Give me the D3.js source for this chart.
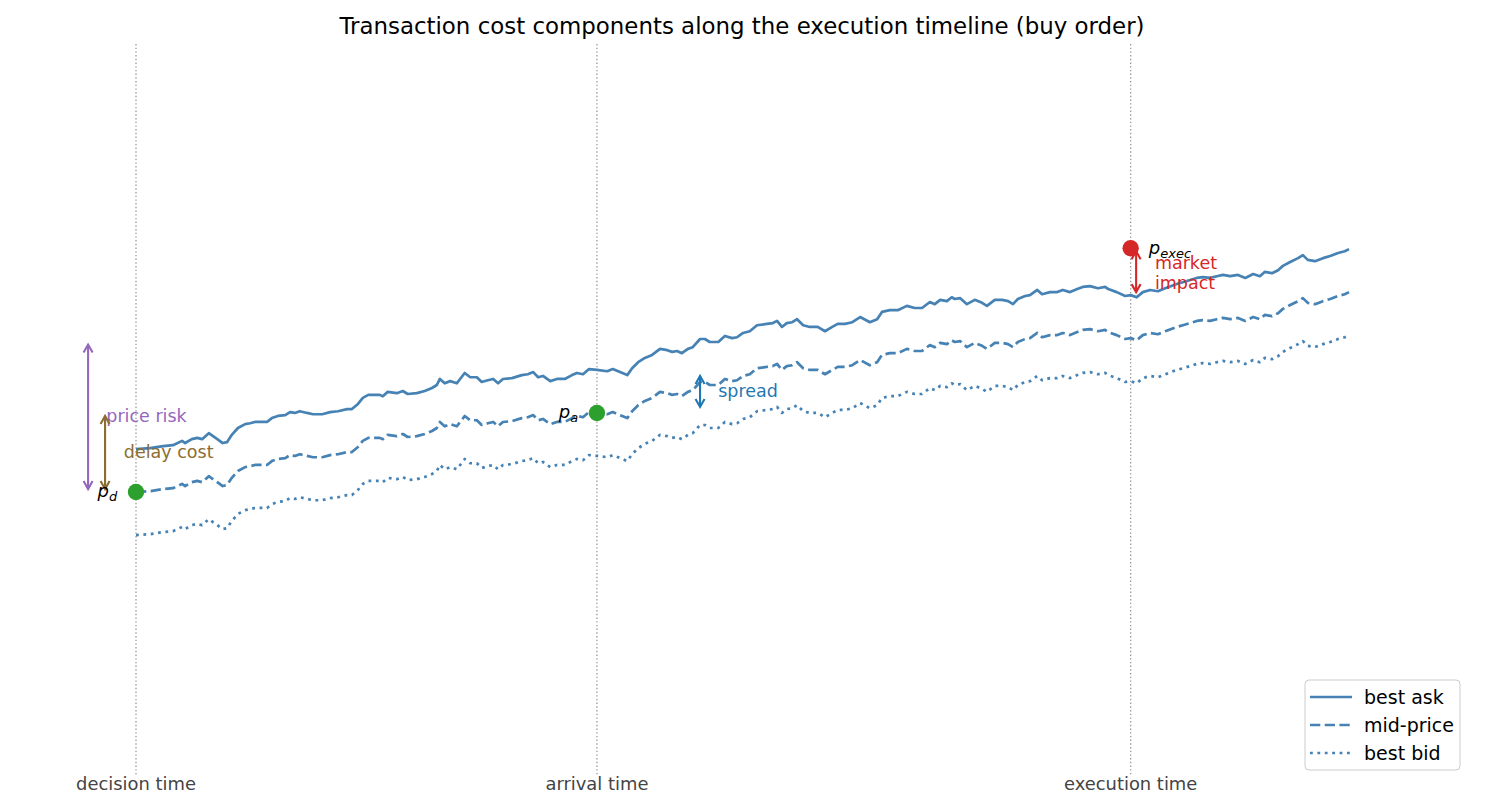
<!DOCTYPE html>
<html>
<head>
<meta charset="utf-8">
<script src="https://cdn.jsdelivr.net/npm/d3@7"></script>
<style>
  body { margin: 0; background: #fff; }
  svg text { font-family: "DejaVu Sans", sans-serif; }
</style>
</head>
<body>
<div id="chart"></div>
<script>
// time in simulation steps (decision = 0), mid-price in bps relative to the decision price
const steps = [0, 2.3, 4.5, 6.1, 7.6, 8.1, 9.2, 10.1, 10.9, 12.0, 13.4, 14.3, 15.0, 15.8, 16.8, 18.0, 18.8, 19.6, 20.8, 21.6,
  22.4, 23.4, 24.6, 25.4, 26.2, 27.0, 28.2, 29.2, 30.7, 32.0, 33.3, 34.8, 35.6, 36.6, 37.4, 38.3, 40.2, 40.7, 41.5, 43.0,
  44.0, 44.8, 46.3, 47.6, 48.8, 49.6, 50.1, 50.9, 51.8, 52.9, 54.2, 55.1, 56.2, 57.0, 58.0, 58.9, 59.7, 60.5, 62.0, 63.6,
  64.6, 65.5, 66.3, 67.1, 68.3, 69.4, 70.7, 71.9, 72.7, 73.7, 74.7, 76.0, 77.7, 78.6, 79.8, 81.0, 81.8, 82.8, 83.9, 85.1,
  86.4, 87.6, 88.4, 89.2, 90.0, 91.0, 91.8, 93.0, 93.8, 94.6, 96.0, 97.1, 98.3, 99.1, 100.1, 101.2, 102.4, 104.0, 105.0, 105.7,
  106.5, 107.3, 108.2, 109.0, 110.0, 111.1, 112.4, 113.6, 114.8, 115.7, 116.9, 118.1, 119.4, 121.0, 122.2, 123.0, 124.3, 125.6, 127.1, 128.4,
  129.6, 130.9, 131.7, 132.6, 133.7, 134.5, 135.0, 135.9, 137.0, 138.3, 139.5, 140.3, 141.6, 142.8, 143.8, 144.6, 145.4, 146.6, 147.4, 148.6,
  149.4, 150.7, 151.9, 152.8, 154.0, 155.2, 156.1, 157.3, 158.6, 159.8, 160.3, 161.7, 163.1, 164.0, 165.0, 166.0, 167.2, 168.5, 169.7, 171.6,
  172.6, 173.8, 174.9, 175.9, 177.1, 178.2, 179.2, 180.4, 181.7, 182.9, 184.2, 185.3, 186.1, 187.3, 188.3, 189.1, 190.3, 191.6, 192.4, 193.2,
  194.4, 195.7, 196.9, 198.2, 199.3, 200];
const midBps = [0, 0.2, 0.7, 0.9, 1.9, 1.4, 2.3, 2.6, 2.3, 3.7, 2.3, 1.4, 1.6, 3.3, 4.9, 5.8, 6.0, 6.3, 6.3, 6.3,
  7.2, 7.7, 7.9, 8.6, 8.4, 8.8, 8.4, 8.1, 8.1, 8.6, 8.8, 9.3, 9.3, 10.5, 11.9, 12.6, 12.6, 12.3, 13.3, 13.0,
  13.5, 12.8, 13.0, 13.5, 14.2, 14.9, 16.3, 15.3, 15.8, 15.3, 17.7, 16.7, 16.7, 15.6, 16.0, 16.3, 15.3, 16.3, 16.5, 17.2,
  17.4, 17.9, 16.7, 17.0, 15.8, 16.3, 16.3, 17.2, 17.7, 17.4, 18.6, 18.4, 18.1, 18.6, 17.9, 17.2, 18.8, 20.2, 21.2, 21.9,
  23.3, 23.0, 22.6, 22.8, 22.3, 23.3, 23.7, 25.6, 25.6, 24.9, 24.9, 26.3, 25.8, 26.0, 27.0, 27.4, 28.8, 29.1, 29.3, 29.8,
  28.4, 29.3, 29.5, 30.2, 28.8, 28.4, 28.4, 27.4, 28.4, 29.1, 29.1, 29.5, 30.7, 29.5, 30.2, 31.9, 32.3, 32.3, 33.3, 32.8,
  32.8, 34.2, 33.7, 34.7, 34.4, 35.3, 34.9, 35.1, 33.7, 34.7, 34.0, 33.3, 34.7, 34.7, 34.4, 33.7, 34.9, 35.6, 35.8, 37.0,
  36.0, 36.5, 36.5, 37.0, 36.5, 37.2, 37.7, 37.9, 37.4, 37.7, 37.2, 36.5, 35.6, 35.8, 35.3, 36.5, 37.0, 36.7, 37.4, 38.4,
  38.8, 39.3, 39.8, 40.0, 39.8, 40.2, 40.5, 40.2, 40.5, 39.8, 40.7, 40.2, 41.2, 40.9, 41.6, 42.6, 43.5, 44.4, 45.1, 44.0,
  43.7, 44.4, 44.9, 45.6, 46.0, 46.5];
const halfSpread = 10;          // bps
const eventNames = ["decision time", "arrival time", "execution time"];
const eventSteps = [0, 76, 164];
const pDecision = 0, pArrival = 18.4, pExec = 56.7;
const seriesNames = ["best ask", "mid-price", "best bid"];
const seriesOffsets = [halfSpread, 0, -halfSpread];

const width = 1485, height = 807;
const title = "Transaction cost components along the execution timeline (buy order)";

const svg = d3.select("#chart").append("svg")
    .attr("width", width).attr("height", height);

const x = d3.scaleLinear().domain([0, 200]).range([136, 1349]);
const y = d3.scaleLinear().domain([-65.8, 104.2]).range([775, 44]);

const lineColor = "#4682b4";
const dashes = ["none", "10.3,4.4", "2.8,4.6"];
const lw = 2.7;

svg.append("text")
    .attr("x", 742).attr("y", 34)
    .attr("text-anchor", "middle")
    .attr("font-size", 22.9)
    .attr("fill", "#000")
    .text(title);

// event markers (vertical dotted lines + labels under the axes)
svg.append("g").selectAll("line")
  .data(eventSteps)
  .join("line")
    .attr("x1", d => x(d)).attr("x2", d => x(d))
    .attr("y1", y.range()[1]).attr("y2", y.range()[0])
    .attr("stroke", "#999")
    .attr("stroke-width", 1.3)
    .attr("stroke-dasharray", "1.4,2.3");

svg.append("g").selectAll("text")
  .data(eventNames)
  .join("text")
    .attr("x", (d, i) => x(eventSteps[i]))
    .attr("y", 790)
    .attr("text-anchor", "middle")
    .attr("font-size", 17.9)
    .attr("fill", "#444")
    .text(d => d);

// ask / mid / bid
const pts = steps.map((s, i) => ({ s: s, m: midBps[i] }));
seriesOffsets.forEach((off, k) => {
  const line = d3.line().x(d => x(d.s)).y(d => y(d.m + off));
  svg.append("path")
      .datum(pts)
      .attr("d", line)
      .attr("fill", "none")
      .attr("stroke", lineColor)
      .attr("stroke-width", lw)
      .attr("stroke-linejoin", "round")
      .attr("stroke-dasharray", dashes[k]);
});

// double headed arrows
function arrow(step, v0, v1, color) {
  const px = x(step), ya = y(v0), yb = y(v1);
  const dir = yb < ya ? -1 : 1;
  const a = ya + dir * 3, b = yb - dir * 3;   // small shrink like annotate
  const g = svg.append("g").attr("stroke", color).attr("stroke-width", 2.1).attr("fill", "none");
  g.append("line").attr("x1", px).attr("x2", px).attr("y1", a).attr("y2", b);
  g.append("path").attr("d", `M${px - 4.5},${a + dir * 8}L${px},${a}L${px + 4.5},${a + dir * 8}`);
  g.append("path").attr("d", `M${px - 4.5},${b - dir * 8}L${px},${b}L${px + 4.5},${b - dir * 8}`);
}

function label(step, v, txt, color, anchor) {
  return svg.append("text")
      .attr("x", x(step)).attr("y", y(v))
      .attr("dy", "0.35em")
      .attr("text-anchor", anchor || "start")
      .attr("font-size", 17.5)
      .attr("fill", color)
      .text(txt);
}

const purple = "#9467bd", brown = "#8c6d31", blue = "#1f77b4", red = "#d62728", green = "#2ca02c";

arrow(-7.9, pDecision, 35.0, purple);
label(-4.9, 17.7, "price risk", purple);

arrow(-5.1, pDecision, pArrival, brown);
label(-2.0, 9.3, "delay cost", brown);

arrow(93.0, 19.1, 27.7, blue);
label(96.0, 23.5, "spread", blue);

const askAtExec = 45.8;
arrow(164.9, askAtExec, pExec, red);
const mi = svg.append("text")
    .attr("x", x(168.0)).attr("y", y(53.3))
    .attr("dy", "0.35em")
    .attr("font-size", 17.5)
    .attr("fill", red);
mi.append("tspan").text("market");
mi.append("tspan").attr("x", x(168.0)).attr("dy", "1.15em").text("impact");

// price points
const marks = [
  { s: 0, v: pDecision, c: green, sub: "d", lx: -3.1, anchor: "end" },
  { s: 76, v: pArrival, c: green, sub: "a", lx: 72.9, anchor: "end" },
  { s: 164, v: pExec, c: red, sub: "exec", lx: 167.0, anchor: "start" }
];

svg.append("g").selectAll("circle")
  .data(marks)
  .join("circle")
    .attr("cx", d => x(d.s))
    .attr("cy", d => y(d.v))
    .attr("r", 8.2)
    .attr("fill", d => d.c);

marks.forEach(d => {
  const t = svg.append("text")
      .attr("x", x(d.lx)).attr("y", y(d.v))
      .attr("dy", "0.3em")
      .attr("text-anchor", d.anchor)
      .attr("font-size", 18)
      .attr("font-style", "italic")
      .attr("fill", "#000");
  t.append("tspan").text("p");
  t.append("tspan").attr("font-size", 13).attr("dy", "0.3em").text(d.sub);
});

// legend
const legend = svg.append("g").attr("transform", "translate(1305,680)");
legend.append("rect")
    .attr("width", 155).attr("height", 90)
    .attr("rx", 4)
    .attr("fill", "#fff").attr("fill-opacity", 0.8)
    .attr("stroke", "#ccc");
seriesNames.forEach((n, i) => {
  const yy = 17 + i * 28;
  legend.append("line")
      .attr("x1", 5).attr("x2", 47)
      .attr("y1", yy).attr("y2", yy)
      .attr("stroke", lineColor)
      .attr("stroke-width", lw)
      .attr("stroke-dasharray", dashes[i]);
  legend.append("text")
      .attr("x", 59).attr("y", yy)
      .attr("dy", "0.35em")
      .attr("font-size", 19)
      .attr("fill", "#000")
      .text(n);
});
</script>
</body>
</html>
